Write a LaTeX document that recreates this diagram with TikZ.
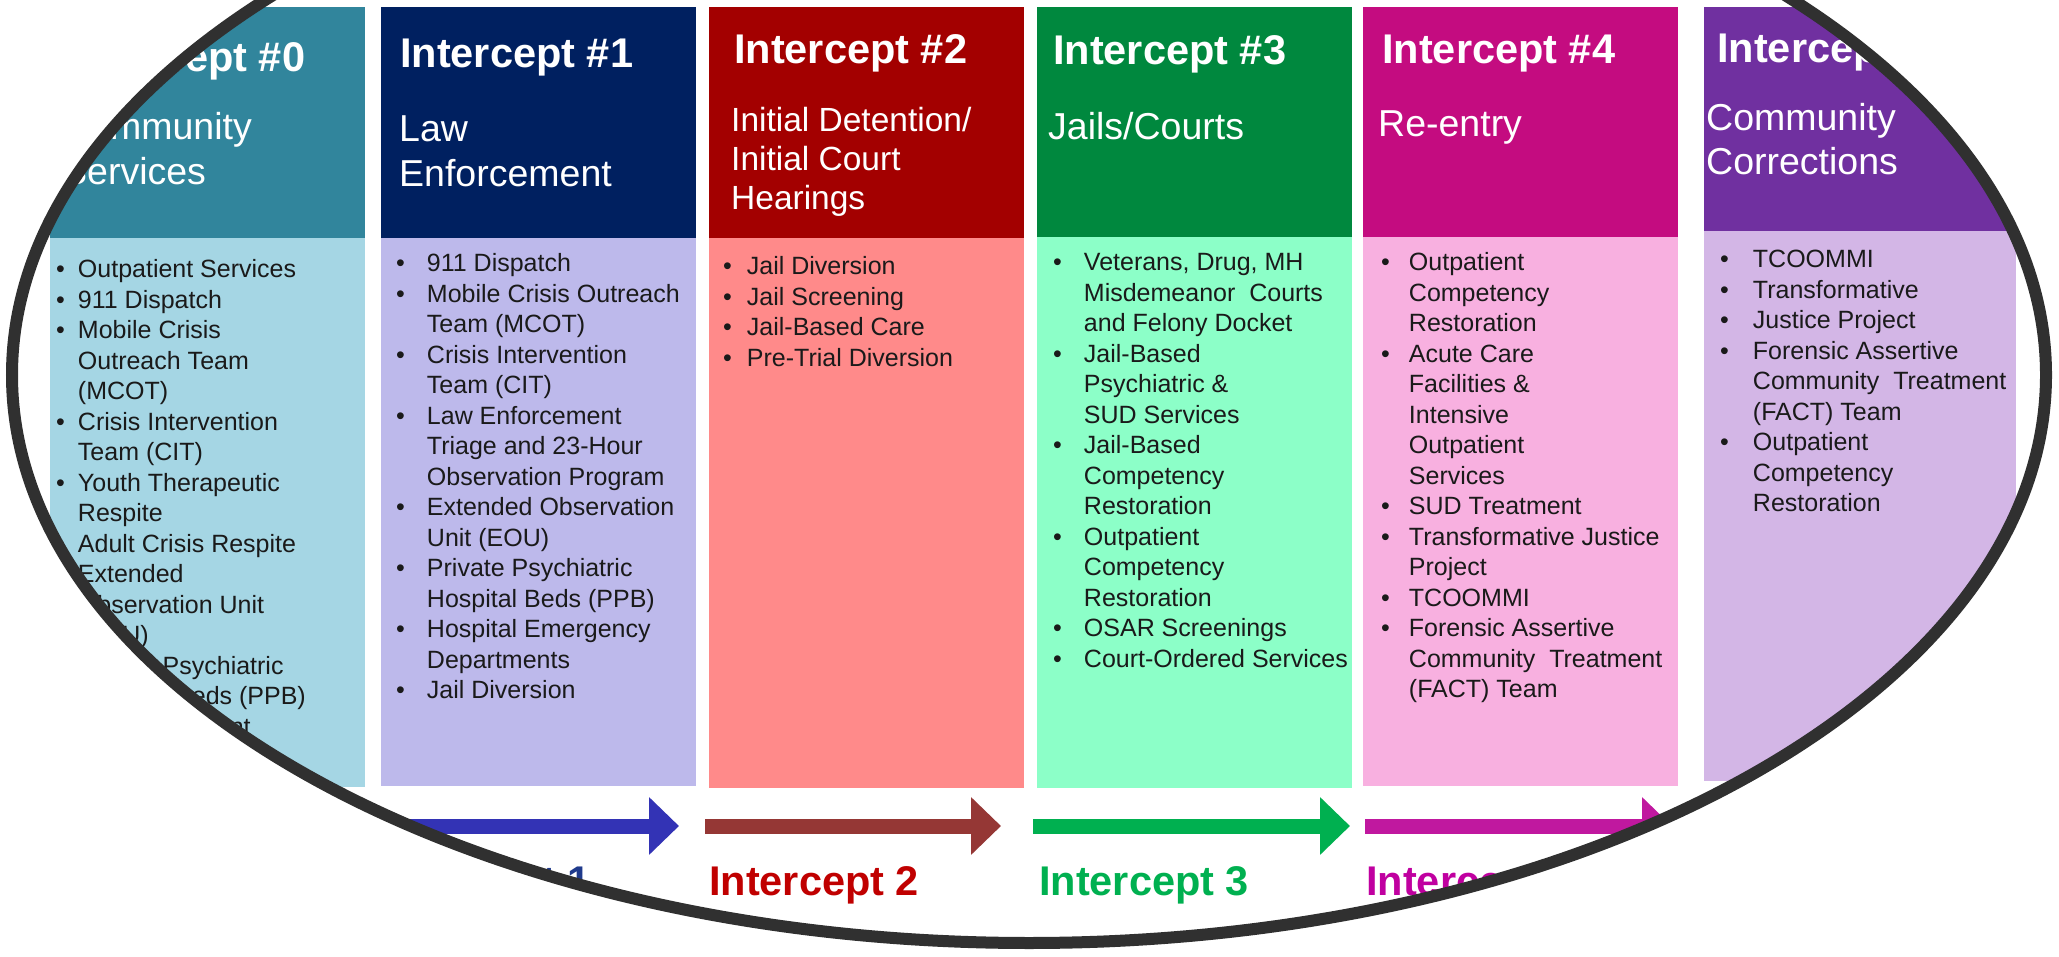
\documentclass[tikz,border=0pt]{standalone}
\usepackage{fontspec}
\setmainfont{Liberation Sans}
\usepackage{array}
\usetikzlibrary{arrows.meta}

\definecolor{hdzero}{HTML}{31859C}
\definecolor{bdzero}{HTML}{A5D6E4}
\definecolor{hdone}{HTML}{002060}
\definecolor{bdone}{HTML}{BDB9EB}
\definecolor{hdtwo}{HTML}{A30000}
\definecolor{bdtwo}{HTML}{FF8A8A}
\definecolor{hdthree}{HTML}{00883E}
\definecolor{bdthree}{HTML}{8CFFC8}
\definecolor{hdfour}{HTML}{C40C80}
\definecolor{bdfour}{HTML}{F8B0E0}
\definecolor{hdfive}{HTML}{7030A0}
\definecolor{bdfive}{HTML}{D3B6E6}
\definecolor{arblue}{HTML}{3333B5}
\definecolor{arbrown}{HTML}{953735}
\definecolor{argreen}{HTML}{00B050}
\definecolor{armag}{HTML}{C0189F}
\definecolor{lbblue}{HTML}{1F3A8C}
\definecolor{lbred}{HTML}{C00000}
\definecolor{lbgreen}{HTML}{00B050}
\definecolor{lbmag}{HTML}{C000A0}
\definecolor{bodytext}{HTML}{1A1A1A}
\definecolor{rimgray}{HTML}{303030}

\newcommand{\rows}[1]{\begin{tabular}[t]{@{}l@{}}#1\end{tabular}}
\newcommand{\blist}[2]{\begin{tabular}[t]{@{}l@{\hspace{#1}}l@{}}#2\end{tabular}}

\tikzset{
  ttl/.style={anchor=base west, inner sep=0pt, text=white, font=\fontsize{41.5}{48}\selectfont\bfseries},
  sub/.style={anchor=base west, inner sep=0pt, text=white, font=\fontsize{37.5}{45}\selectfont},
  list/.style={anchor=base west, inner sep=0pt, text=bodytext, font=\fontsize{25}{30.5}\selectfont},
  lbl/.style={anchor=base west, inner sep=0pt, font=\fontsize{41.5}{48}\selectfont\bfseries},
  flow/.style={line width=15pt, -{Triangle[length=30pt, width=56pt]}},
  rim/.style={draw=rimgray, line width=12pt}
}

\begin{document}
\begin{tikzpicture}[x=1pt,y=-1pt]
  \fill[white] (0,0) rectangle (2059,957);
  \useasboundingbox (0,0) rectangle (2059,957);
  \coordinate (ctr) at (1029,375);
  \begin{scope}
    \clip (ctr) ellipse [x radius=1017pt, y radius=568pt];
    % column boxes
    \foreach \xl/\xr/\hb/\bb/\hc/\bc in {
      50/365/238/787/hdzero/bdzero,
      381/696/238/786/hdone/bdone,
      709/1024/238/788/hdtwo/bdtwo,
      1037/1352/237/788/hdthree/bdthree,
      1363/1678/237/786/hdfour/bdfour,
      1704/2016/231/781/hdfive/bdfive%
    }{
      \fill[\hc] (\xl,7) rectangle (\xr,\hb);
      \fill[\bc] (\xl,\hb) rectangle (\xr,\bb);
    }
    % titles
    \foreach \i/\x/\y in {0/72/72, 1/400/68, 2/734/64, 3/1053/65, 4/1382/64, 5/1717/63}{
      \node[ttl] (ttl\i) at (\x,\y) {Intercept \#\i};
    }
    % subtitles
    \node[sub] (sub0) at (62,140) {\rows{Community\\Services}};
    \node[sub] (sub1) at (399,142) {\rows{Law\\Enforcement}};
    \node[sub, font=\fontsize{33.5}{39}\selectfont] (sub2) at (731,132)
      {\rows{Initial Detention/\\Initial Court\\Hearings}};
    \node[sub] (sub3) at (1048,140) {\rows{Jails/Courts}};
    \node[sub] (sub4) at (1378,137) {\rows{Re-entry}};
    \node[sub, font=\fontsize{37.5}{44}\selectfont] (sub5) at (1706,131)
      {\rows{Community\\Corrections}};
    % lists
    \node[list] (lst0) at (56,278) {\blist{13pt}{
      \textbullet & Outpatient Services\\
      \textbullet & 911 Dispatch\\
      \textbullet & Mobile Crisis\\ & Outreach Team\\ & (MCOT)\\
      \textbullet & Crisis Intervention\\ & Team (CIT)\\
      \textbullet & Youth Therapeutic\\ & Respite\\
      \textbullet & Adult Crisis Respite\\
      \textbullet & Extended\\ & Observation Unit\\ & (EOU)\\
      \textbullet & Private Psychiatric\\ & Hospital Beds (PPB)\\
      \textbullet & SUD Treatment}};
    \node[list] (lst1) at (396,272) {\blist{22pt}{
      \textbullet & 911 Dispatch\\
      \textbullet & Mobile Crisis Outreach\\ & Team (MCOT)\\
      \textbullet & Crisis Intervention\\ & Team (CIT)\\
      \textbullet & Law Enforcement\\ & Triage and 23-Hour\\ & Observation Program\\
      \textbullet & Extended Observation\\ & Unit (EOU)\\
      \textbullet & Private Psychiatric\\ & Hospital Beds (PPB)\\
      \textbullet & Hospital Emergency\\ & Departments\\
      \textbullet & Jail Diversion}};
    \node[list] (lst2) at (723,275) {\blist{15pt}{
      \textbullet & Jail Diversion\\
      \textbullet & Jail Screening\\
      \textbullet & Jail-Based Care\\
      \textbullet & Pre-Trial Diversion}};
    \node[list] (lst3) at (1053,271) {\blist{22pt}{
      \textbullet & Veterans, Drug, MH\\ & Misdemeanor\hspace{7pt} Courts\\ & and Felony Docket\\
      \textbullet & Jail-Based\\ & Psychiatric \&\\ & SUD Services\\
      \textbullet & Jail-Based\\ & Competency\\ & Restoration\\
      \textbullet & Outpatient\\ & Competency\\ & Restoration\\
      \textbullet & OSAR Screenings\\
      \textbullet & Court-Ordered Services}};
    \node[list] (lst4) at (1381,271) {\blist{19pt}{
      \textbullet & Outpatient\\ & Competency\\ & Restoration\\
      \textbullet & Acute Care\\ & Facilities \&\\ & Intensive\\ & Outpatient\\ & Services\\
      \textbullet & SUD Treatment\\
      \textbullet & Transformative Justice\\ & Project\\
      \textbullet & TCOOMMI\\
      \textbullet & Forensic Assertive\\ & Community\hspace{7pt} Treatment\\ & (FACT) Team}};
    \node[list] (lst5) at (1720,268) {\blist{24pt}{
      \textbullet & TCOOMMI\\
      \textbullet & Transformative\\
      \textbullet & Justice Project\\
      \textbullet & Forensic Assertive\\ & Community\hspace{7pt} Treatment\\ & (FACT) Team\\
      \textbullet & Outpatient\\ & Competency\\ & Restoration}};
    % arrows
    \foreach \i/\xs/\xe/\col in {1/378/679/arblue, 2/705/1001/arbrown, 3/1033/1350/argreen, 4/1365/1672/armag}{
      \coordinate (as\i) at (\xs,826);
      \coordinate (ae\i) at (\xe,826);
      \draw[flow, \col] (as\i) -- (ae\i);
    }
    % labels
    \foreach \i/\x/\col in {1/381/lbblue, 2/709/lbred, 3/1039/lbgreen, 4/1366/lbmag}{
      \node[lbl, text=\col] (lbl\i) at (\x,895) {Intercept \i};
    }
  \end{scope}
  \draw[rim] (ctr) ellipse [x radius=1017pt, y radius=568pt];
\end{tikzpicture}
\end{document}
